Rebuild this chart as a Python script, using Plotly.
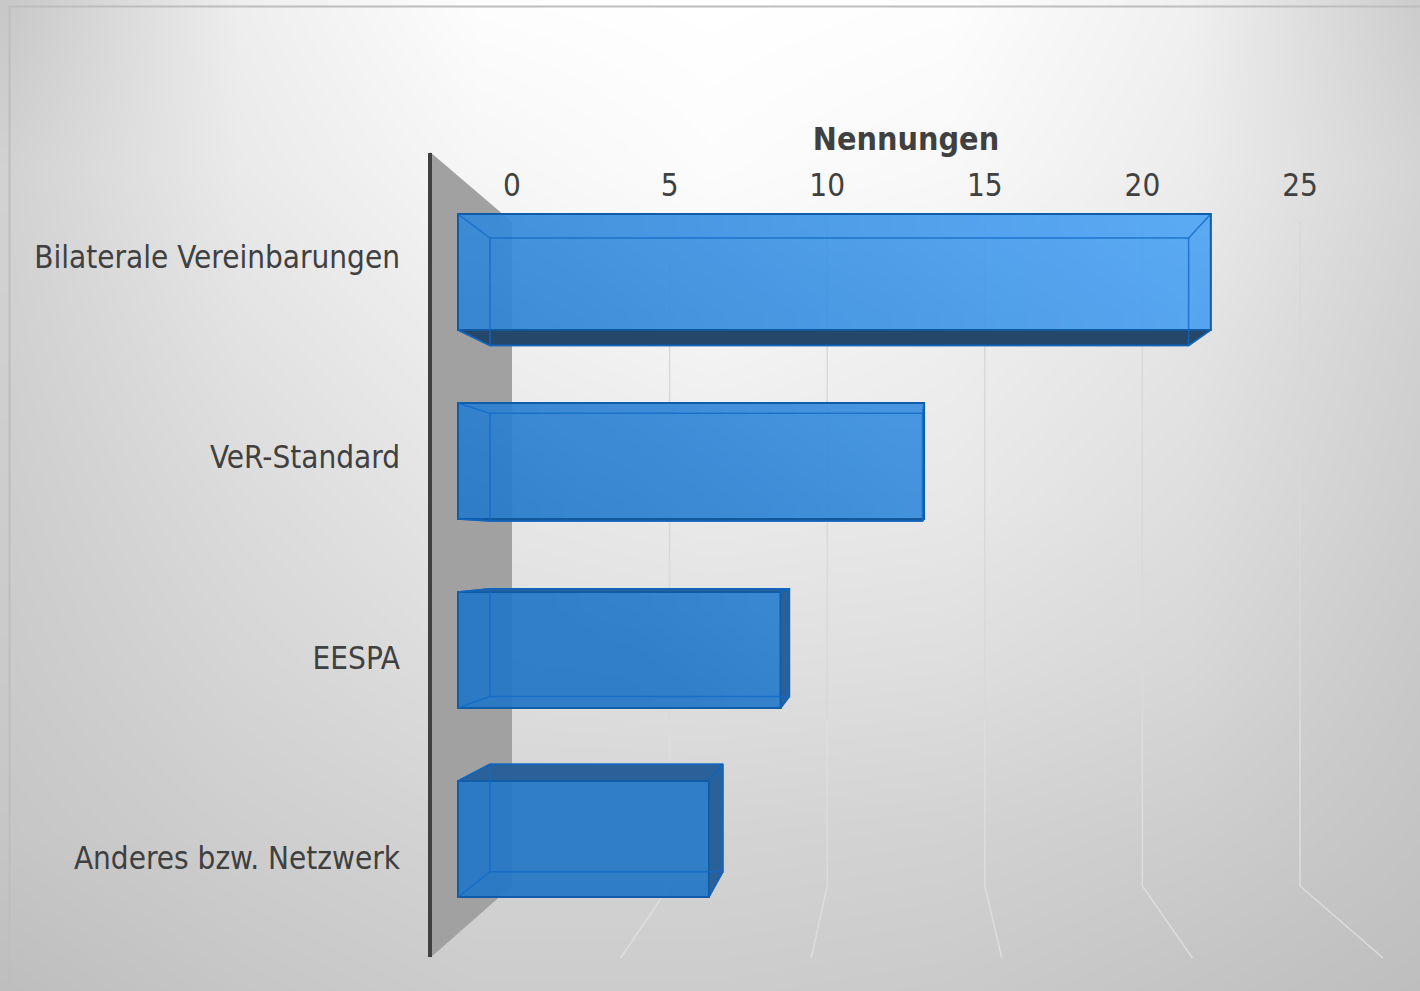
import plotly.graph_objects as go

# ---- data
categories = ["Bilaterale Vereinbarungen", "VeR-Standard", "EESPA", "Anderes bzw. Netzwerk"]
values = [21, 13, 9, 7]
tick_values = [0, 5, 10, 15, 20, 25]
axis_title = "Nennungen"

# ---- page geometry (pixels)
W, H = 1420, 991
X0, XS = 458.0, 35.85      # bar front plane: px of value 0, px per unit
Y0, YS = 272.0, 189.0      # bar front plane: px of first category, px per category
BAR_H = 116 / 189
VPX, VPY, K = 902.0, 547.0, 0.928   # perspective: vanishing point and depth ratio
TX0, TXS = 512.0, 31.52    # back wall tick positions
FX0, FXS = 430.0, 38.12    # floor front edge positions
GRID_TOP, GRID_BOT, FLOOR_Y = 222.0, 886.0, 958.0
GRID_SPLIT = 720.0
LABEL_Y0, LABEL_YS = 257.0, 200.5
PAD = 40.0                 # spare axis length either side of the 0..25 span

TEXT = "#404040"
FONT = "DejaVu Sans Condensed"

# ---- background greys (rows top to bottom, columns left to right)
bg_x = [9, 240, 480, 710, 950, 1190, 1420]
bg_y = [7, 170, 335, 500, 665, 830, 990]
bg_z = [
    [200, 238, 253, 255, 253, 240, 204],
    [210, 234, 246, 252, 248, 236, 212],
    [208, 226, 238, 244, 238, 228, 208],
    [205, 219, 230, 234, 232, 222, 205],
    [202, 213, 222, 224, 222, 215, 200],
    [198, 206, 212, 212, 210, 205, 196],
    [190, 198, 204, 204, 202, 196, 190],
]

fig = go.Figure()

# --- layer 1: page background, wall, grid, floor
fig.add_trace(go.Heatmap(
    x=bg_x, y=bg_y, z=bg_z, zsmooth="best", zmin=0, zmax=255, showscale=False, hoverinfo="skip",
    colorscale=[[0, "#000000"], [1, "#ffffff"]], xaxis="x", yaxis="y"))
fig.add_trace(go.Scatter(
    x=[9.5, 9.5, W], y=[H, 6.5, 6.5], mode="lines", line=dict(color="#bdbdbd", width=2),
    hoverinfo="skip", showlegend=False, xaxis="x", yaxis="y"))
fig.add_trace(go.Scatter(
    x=[430, TX0, TX0, 430, 430], y=[152, GRID_TOP, GRID_BOT, FLOOR_Y, 152], mode="lines", fill="toself",
    fillcolor="#a1a1a1", line=dict(width=0), hoverinfo="skip", showlegend=False, xaxis="x", yaxis="y"))
for t in tick_values[1:]:
    fig.add_trace(go.Scatter(
        x=[TX0 + TXS * t, TX0 + TXS * t], y=[GRID_TOP, GRID_SPLIT], mode="lines",
        line=dict(color="#d9d9d9", width=1.5), hoverinfo="skip", showlegend=False, xaxis="x", yaxis="y"))
    fig.add_trace(go.Scatter(
        x=[TX0 + TXS * t, TX0 + TXS * t, FX0 + FXS * t], y=[GRID_SPLIT, GRID_BOT, FLOOR_Y], mode="lines",
        line=dict(color="#dddddd", width=1.5), hoverinfo="skip", showlegend=False, xaxis="x", yaxis="y"))
fig.add_trace(go.Scatter(
    x=[430, 430], y=[153, 957], mode="lines", line=dict(color="#404040", width=4),
    hoverinfo="skip", showlegend=False, xaxis="x", yaxis="y"))

# --- layer 2: axis ticks and labels (trace only activates the axes)
fig.add_trace(go.Scatter(
    x=[0, 25], y=[0, 3], mode="markers", marker=dict(opacity=0), hoverinfo="skip", showlegend=False,
    xaxis="x2", yaxis="y2"))

# --- layer 3: bars in perspective
def ux(px):
    return (px - X0) / XS

def uy(py):
    return (py - Y0) / YS

def back_x(v):
    return ux(VPX + (X0 + XS * v - VPX) * K)

def back_y(c):
    return uy(VPY + (Y0 + YS * c - VPY) * K)

WIRE = "rgba(18,105,200,0.8)"
EDGE = "#0f5ca8"
FACE_DARK = "#24476a"
FACE_MID = "#2a6198"

for i, v in enumerate(values):
    top, bot = i - BAR_H / 2, i + BAR_H / 2
    # gradient of the front face
    n = 14
    xe = [v * k / n for k in range(n + 1)]
    ye = [top + (bot - top) * k / 4 for k in range(5)]
    z = []
    for r in range(4):
        yc = Y0 + YS * (ye[r] + ye[r + 1]) / 2
        row = []
        for c in range(n):
            xc = X0 + XS * (xe[c] + xe[c + 1]) / 2
            row.append(max(0.0, min(1.0, 0.000826 * (xc - 458) + 0.00114 * (560 - yc))))
        z.append(row)
    fig.add_trace(go.Heatmap(
        x=xe, y=ye, z=z, zsmooth="best", zmin=0, zmax=1, showscale=False, hoverinfo="skip", opacity=0.92,
        colorscale=[[0, "#2378c6"], [1, "#55abfa"]], xaxis="x3", yaxis="y3"))

fig.add_trace(go.Bar(
    x=values, y=list(range(len(values))), orientation="h", width=BAR_H, base=0,
    marker=dict(color="rgba(35,120,198,0.08)", line=dict(color=EDGE, width=2)),
    hovertext=categories, hoverinfo="text+x", showlegend=False, xaxis="x3", yaxis="y3"))

def poly(xs, ys, color):
    fig.add_trace(go.Scatter(
        x=xs + xs[:1], y=ys + ys[:1], mode="lines", fill="toself", fillcolor=color,
        line=dict(color=EDGE, width=1.5), hoverinfo="skip", showlegend=False, xaxis="x3", yaxis="y3"))

def wire(xs, ys):
    fig.add_trace(go.Scatter(
        x=xs, y=ys, mode="lines", line=dict(color=WIRE, width=1.5),
        hoverinfo="skip", showlegend=False, xaxis="x3", yaxis="y3"))

for i, v in enumerate(values):
    top, bot = i - BAR_H / 2, i + BAR_H / 2
    bl, br, bt, bb = back_x(0), back_x(v), back_y(top), back_y(bot)
    if bb > bot:
        poly([0, v, br, bl], [bot, bot, bb, bb], FACE_DARK)
    if bt < top:
        poly([0, v, br, bl], [top, top, bt, bt], FACE_MID)
    if br > v:
        poly([v, br, br, v], [top, bt, bb, bot], FACE_MID)
    wire([bl, br, br, bl, bl], [bt, bt, bb, bb, bt])
    wire([0, bl], [top, bt])
    wire([0, bl], [bot, bb])
    wire([v, br], [top, bt])
    wire([v, br], [bot, bb])

hidden = dict(visible=False, showgrid=False, zeroline=False, fixedrange=True)
tickfont = dict(family=FONT, size=31.2, color=TEXT)

fig.update_layout(
    width=W, height=H, margin=dict(l=0, r=0, t=0, b=0, pad=0, autoexpand=False),
    paper_bgcolor="#ffffff", plot_bgcolor="rgba(0,0,0,0)", showlegend=False, barmode="overlay",
    # layer 1: page pixels
    xaxis=dict(hidden, domain=[0, 1], range=[0, W], anchor="y"),
    yaxis=dict(hidden, domain=[0, 1], range=[H, 0], anchor="x"),
    # layer 2: value axis on the back wall, category labels
    xaxis2=dict(
        domain=[(TX0 - PAD) / W, (TX0 + 25 * TXS + PAD) / W],
        range=[-PAD / TXS, 25 + PAD / TXS], anchor="y2", side="top",
        tickmode="array", tickvals=tick_values, tickfont=tickfont, ticklabelstandoff=19,
        ticks="", showline=False, zeroline=False, fixedrange=True, showgrid=False,
        title=dict(text="<b>" + axis_title + "</b>", font=dict(family=FONT, size=32, color=TEXT), standoff=6)),
    yaxis2=dict(
        domain=[1 - GRID_BOT / H, 1 - GRID_TOP / H],
        range=[(GRID_BOT - LABEL_Y0) / LABEL_YS, (GRID_TOP - LABEL_Y0) / LABEL_YS],
        anchor="free", position=430 / W, side="left",
        tickmode="array", tickvals=list(range(len(categories))), ticktext=categories, tickfont=tickfont,
        ticks="", ticklabelstandoff=30, showline=False, showgrid=False, zeroline=False, fixedrange=True),
    # layer 3: bars
    xaxis3=dict(hidden, domain=[0, 1], range=[ux(0), ux(W)], anchor="y3"),
    yaxis3=dict(hidden, domain=[0, 1], range=[uy(H), uy(0)], anchor="x3"),
)

fig.write_html("out.html", config={"displayModeBar": False},
               post_script="document.body.style.margin='0';document.documentElement.style.overflow='hidden';")
